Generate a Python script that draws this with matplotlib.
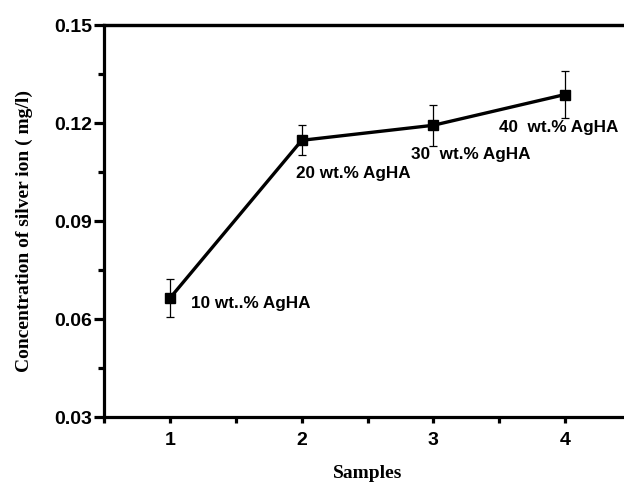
import matplotlib
matplotlib.use("Agg")
import matplotlib.pyplot as plt
from matplotlib.ticker import MultipleLocator, FormatStrFormatter

plt.rcParams["font.family"] = ["Liberation Sans", "DejaVu Sans"]
plt.rcParams["font.weight"] = "bold"

# Silver ion release per sample
samples = [1, 2, 3, 4]
concentration = [0.0665, 0.1147, 0.1193, 0.1287]
errors = [0.0058, 0.0046, 0.0063, 0.0073]
labels = ["10 wt..% AgHA", "20 wt.% AgHA", "30  wt.% AgHA", "40  wt.% AgHA"]
# label offsets (x in sample units, y in mg/l)
label_dx = [0.16, -0.04, -0.17, -0.5]
label_dy = [-0.0018, -0.0101, -0.0088, -0.0101]

fig = plt.figure(figsize=(6.24, 4.82), dpi=100)
ax = fig.add_axes([104.5 / 624, 65 / 482, 526 / 624, 392 / 482])

ax.errorbar(samples, concentration, yerr=errors, color="black", lw=2.4,
            marker="s", markersize=6.5, ecolor="black", elinewidth=0.9,
            capsize=3, capthick=0.9, zorder=3)

for x, y, dx, dy, txt in zip(samples, concentration, label_dx, label_dy, labels):
    ax.text(x + dx, y + dy, txt, fontsize=12.3, fontweight="bold", va="center", ha="left")

ax.set_xlim(0.5, 4.5)
ax.set_ylim(0.03, 0.15)
ax.xaxis.set_major_locator(MultipleLocator(1))
ax.xaxis.set_minor_locator(MultipleLocator(0.5))
ax.yaxis.set_major_locator(MultipleLocator(0.03))
ax.yaxis.set_minor_locator(MultipleLocator(0.015))
ax.yaxis.set_major_formatter(FormatStrFormatter("%.2f"))

for s in ax.spines.values():
    s.set_linewidth(2.3)

ax.tick_params(axis="y", which="major", length=7, width=2.3, labelsize=14, pad=2)
ax.tick_params(axis="y", which="minor", length=4, width=2.3)
ax.tick_params(axis="x", which="both", length=4.5, width=2.3, labelsize=14, pad=6,
               direction="out")

# small bumps along the top edge
sec = ax.secondary_xaxis("top")
sec.xaxis.set_major_locator(MultipleLocator(0.5))
sec.tick_params(length=1.5, width=2.3, direction="inout", labeltop=False)
sec.spines["top"].set_linewidth(2.3)

ax.set_xlabel("Samples", family="Liberation Serif", fontsize=14, fontweight="bold",
              labelpad=12)
ax.set_ylabel("Concentration of silver ion ( mg/l)", family="Liberation Serif",
              fontsize=14, fontweight="bold")
ax.yaxis.set_label_coords(-0.136, 0.4745)

plt.savefig("out.png", dpi=100)
